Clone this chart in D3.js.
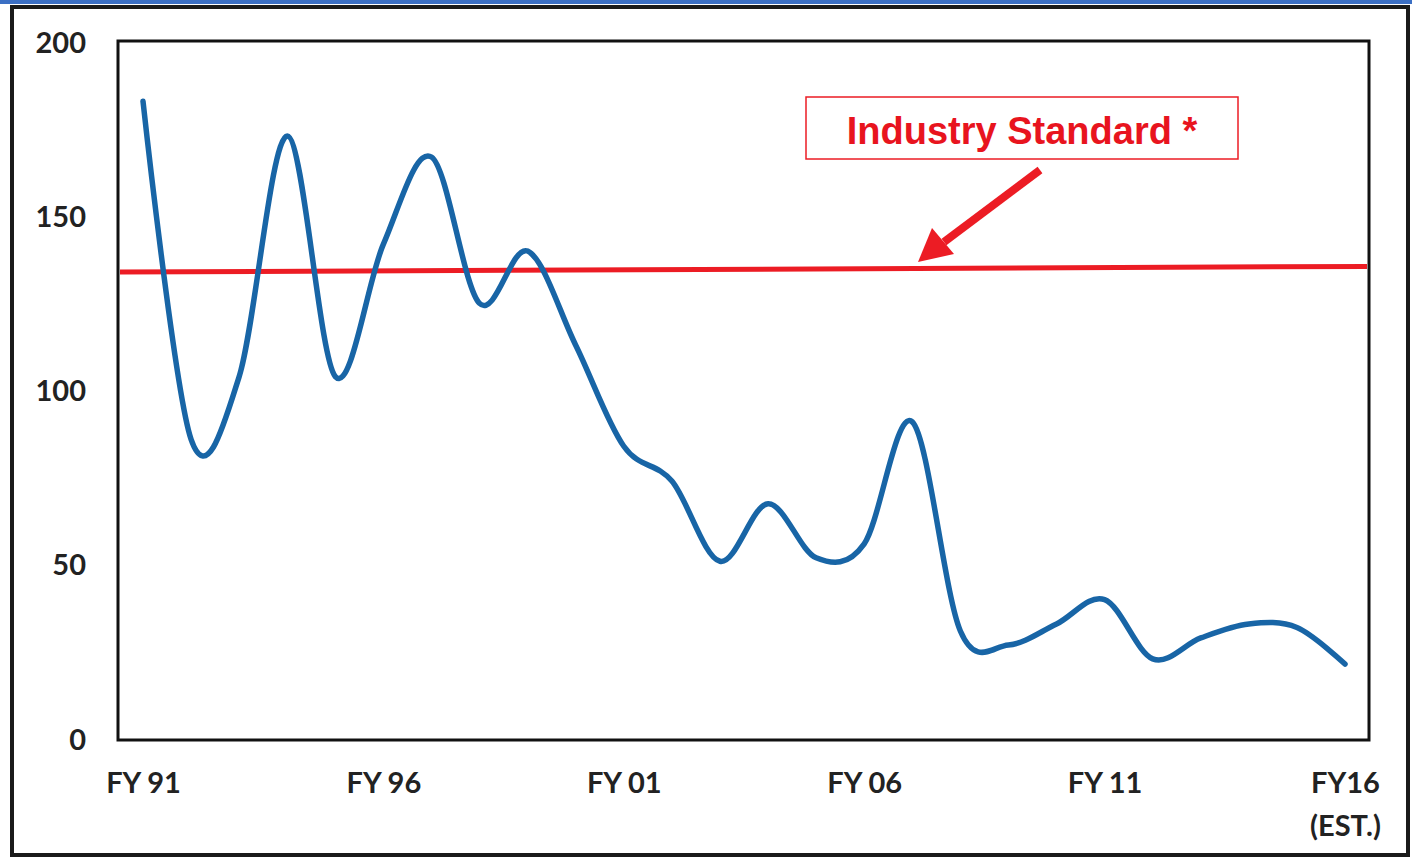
<!DOCTYPE html>
<html><head><meta charset="utf-8">
<script src="https://cdn.jsdelivr.net/npm/d3@7"></script>
<style>html,body{margin:0;padding:0;background:#fff;}svg{display:block;}</style>
</head><body>
<svg id="c" width="1412" height="858"></svg>
<script>
const years = [1991,1992,1993,1994,1995,1996,1997,1998,1999,2000,2001,2002,2003,2004,2005,2006,2007,2008,2009,2010,2011,2012,2013,2014,2015,2016];
const values = [183,86,104,173,104,142,167,125,140,113,84,74,51,67.5,52,56,91,31,27,33,40,23,29,33,32,21.5];
const standardLine = [134,135.6];
const tickYears = [1991,1996,2001,2006,2011,2016];
const tickLabels = ["FY 91","FY 96","FY 01","FY 06","FY 11","FY16"];
const yTicks = [0,50,100,150,200];

const svg = d3.select("#c");
// frame
svg.append("rect").attr("x",0).attr("y",0).attr("width",1412).attr("height",4).attr("fill","#3b6fc4");
svg.append("rect").attr("x",12).attr("y",7).attr("width",1396).attr("height",848).attr("fill","#fff").attr("stroke","#1a1a1a").attr("stroke-width",4);

const L=118,R=1369,T=41,B=740;
const x = d3.scaleLinear().domain([1991,2016]).range([143,1345]);
const y = d3.scaleLinear().domain([0,200]).range([739,42]);

svg.append("rect").attr("x",L).attr("y",T).attr("width",R-L).attr("height",B-T).attr("fill","none").attr("stroke","#111").attr("stroke-width",3);

const font = "Lato, 'Open Sans', sans-serif";
// y axis
const ya = svg.append("g").attr("transform",`translate(${L-32},0)`).call(d3.axisLeft(y).tickValues(yTicks).tickSize(0).tickPadding(0));
ya.select(".domain").remove();
ya.selectAll("text").attr("font-family",font).attr("font-weight","bold").attr("font-size",29).attr("fill","#222").attr("dy","0.35em");

// x axis
const xa = svg.append("g").attr("transform",`translate(0,${B+32})`).call(d3.axisBottom(x).tickValues(tickYears).tickFormat((d,i)=>tickLabels[i]).tickSize(0).tickPadding(0));
xa.select(".domain").remove();
xa.selectAll("text").attr("font-family",font).attr("font-weight","bold").attr("font-size",29).attr("fill","#222").attr("dy","0.71em");
xa.selectAll(".tick").filter(d=>d===2016).append("text").text("(EST.)").attr("font-family",font).attr("font-weight","bold").attr("font-size",29).attr("fill","#222").attr("text-anchor","middle").attr("y",43).attr("dy","0.71em");

// industry standard line
const xe = d3.scaleLinear().domain([0,1]).range([L+2,R-2]);
svg.append("path").datum(standardLine).attr("fill","none").attr("stroke","#ec1c24").attr("stroke-width",5)
  .attr("d",d3.line().x((d,i)=>xe(i)).y(d=>y(d)));

// data line
svg.append("path").datum(values).attr("fill","none").attr("stroke","#1865a6").attr("stroke-width",5.5).attr("stroke-linecap","round")
  .attr("d",d3.line().x((d,i)=>x(years[i])).y(d=>y(d)).curve(d3.curveCardinal.tension(0)));

// label box
svg.append("rect").attr("x",806).attr("y",97).attr("width",432).attr("height",62).attr("fill","#fff").attr("stroke","#ec1c24").attr("stroke-width",1.5);
svg.append("text").text("Industry Standard *").attr("x",1022).attr("y",144).attr("text-anchor","middle")
  .attr("font-family","'Liberation Sans', Arial, sans-serif").attr("font-weight","bold").attr("font-size",38).attr("fill","#e8141e");

// arrow
svg.append("line").attr("x1",1040).attr("y1",170).attr("x2",944).attr("y2",242).attr("stroke","#ec1c24").attr("stroke-width",8);
svg.append("path").attr("d","M918,262 L932,228 L954,254 Z").attr("fill","#ec1c24");
</script>
</body></html>
